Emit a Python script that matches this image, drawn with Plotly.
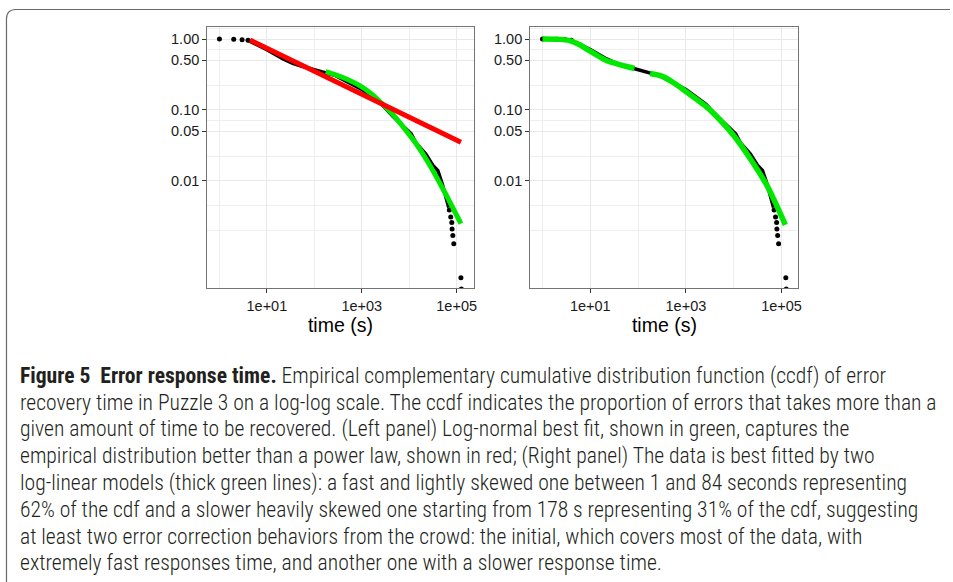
import plotly.graph_objects as go

# ---------------- data ----------------
# empirical ccdf: sparse head points, dense body, sparse tail points
emp_head_x = [1, 2, 3, 4]
emp_head_y = [1.0, 0.99, 0.98, 0.96]
emp_body_x = [4, 10, 22, 35, 57, 79, 120, 178, 280, 1000, 2630, 4470, 8000, 11000, 14000, 22400, 31600, 40000, 50000, 60000, 68000]
emp_body_y = [0.96, 0.71, 0.525, 0.455, 0.41, 0.385, 0.355, 0.33, 0.305, 0.195, 0.12, 0.082, 0.056, 0.046, 0.034, 0.024, 0.0165, 0.014, 0.0090, 0.0055, 0.0042]
emp_tail_x = [70000, 75000, 79000, 80000, 83000, 87000, 123000, 126000]
emp_tail_y = [0.0039, 0.0031, 0.0026, 0.0021, 0.0017, 0.0013, 0.00043, 0.00030]

# left panel fits
powerlaw_x = [4.4, 123000]
powerlaw_y = [0.97, 0.035]
lognorm_x = [174, 282, 500, 870, 1585, 2630, 4467, 8128, 14125, 25119, 54954, 123027]
lognorm_y = [0.347, 0.313, 0.269, 0.224, 0.17, 0.1245, 0.087, 0.0537, 0.0331, 0.0182, 0.0071, 0.0025]

# right panel fits (two log-linear models)
fit1_x = [1, 2.3, 3.7, 6.0, 9.7, 14.5, 21.7, 35, 57, 84]
fit1_y = [1.0, 0.99, 0.95, 0.83, 0.68, 0.58, 0.50, 0.45, 0.41, 0.385]
fit2_x = [178, 316, 562, 1000, 2512, 5012, 10000, 22387, 50119, 120226]
fit2_y = [0.327, 0.30, 0.24, 0.182, 0.115, 0.074, 0.0437, 0.0204, 0.0085, 0.0024]

y_tick_vals = [0.01, 0.05, 0.1, 0.5, 1.0]
y_tick_text = ["0.01", "0.05", "0.10", "0.50", "1.00"]
x_tick_vals = [10, 1000, 100000]
x_tick_text = ["1e+01", "1e+03", "1e+05"]
y_minor_vals = [0.002, 0.00447, 0.0224, 0.0708, 0.224, 0.708, 1.413]
x_minor_vals = [1, 100, 10000]

caption_lines = [
    "<b>Figure 5\u00a0 Error response time.</b> Empirical complementary cumulative distribution function (ccdf) of error",
    "recovery time in Puzzle 3 on a log-log scale. The ccdf indicates the proportion of errors that takes more than a",
    "given amount of time to be recovered. (Left panel) Log-normal best fit, shown in green, captures the",
    "empirical distribution better than a power law, shown in red; (Right panel) The data is best fitted by two",
    "log-linear models (thick green lines): a fast and lightly skewed one between 1 and 84 seconds representing",
    "62% of the cdf and a slower heavily skewed one starting from 178 s representing 31% of the cdf, suggesting",
    "at least two error correction behaviors from the crowd: the initial, which covers most of the data, with",
    "extremely fast responses time, and another one with a slower response time.",
]

# ---------------- figure ----------------
W, H = 953, 582
GREEN = "#00e800"
RED = "#ff0000"
CAP_FONT = "Roboto Condensed, Roboto, sans-serif"

fig = go.Figure()

for xa, ya in (("x", "y"), ("x2", "y2")):
    fig.add_trace(go.Scatter(x=emp_body_x, y=emp_body_y, mode="lines", xaxis=xa, yaxis=ya,
                             line=dict(color="black", width=3.5), hoverinfo="skip"))
    fig.add_trace(go.Scatter(x=emp_head_x + emp_tail_x, y=emp_head_y + emp_tail_y, mode="markers",
                             xaxis=xa, yaxis=ya, marker=dict(color="black", size=5)))

fig.add_trace(go.Scatter(x=lognorm_x, y=lognorm_y, mode="lines", xaxis="x", yaxis="y",
                         line=dict(color=GREEN, width=5, shape="spline", smoothing=0.8)))
fig.add_trace(go.Scatter(x=powerlaw_x, y=powerlaw_y, mode="lines", xaxis="x", yaxis="y",
                         line=dict(color=RED, width=5)))
fig.add_trace(go.Scatter(x=fit1_x, y=fit1_y, mode="lines", xaxis="x2", yaxis="y2",
                         line=dict(color=GREEN, width=5.5, shape="spline", smoothing=0.8)))
fig.add_trace(go.Scatter(x=fit2_x, y=fit2_y, mode="lines", xaxis="x2", yaxis="y2",
                         line=dict(color=GREEN, width=5.5, shape="spline", smoothing=0.8)))

tickfont = dict(family="Liberation Sans, Arial, sans-serif", size=14.5, color="#1a1a1a")
grid = dict(showgrid=True, gridcolor="#e8e8e8", gridwidth=1.4, zeroline=False)
minor = dict(tickmode="array", showgrid=True, gridcolor="#eeeeee", gridwidth=1.4, ticklen=0)
frame = dict(showline=True, mirror=True, linecolor="#747474", linewidth=1.3,
             ticks="outside", ticklen=4, tickwidth=1.1, tickcolor="#333333")
common_x = dict(type="log", range=[-0.255, 5.355], tickmode="array", tickvals=x_tick_vals,
                ticktext=x_tick_text, tickfont=tickfont,
                minor=dict(minor, tickvals=x_minor_vals),
                title=dict(text="time (s)", font=dict(family="Liberation Sans, Arial, sans-serif",
                                                      size=19.5, color="black"), standoff=0),
                **grid, **frame)
common_y = dict(type="log", range=[-3.51, 0.17], tickmode="array", tickvals=y_tick_vals,
                ticktext=y_tick_text, tickfont=tickfont,
                minor=dict(minor, tickvals=y_minor_vals),
                **grid, **frame)

y_dom = [1 - 288 / H, 1 - 27 / H]
fig.update_layout(
    width=W, height=H, autosize=False,
    margin=dict(l=0, r=0, t=0, b=0),
    paper_bgcolor="white", plot_bgcolor="white", showlegend=False,
    xaxis=dict(common_x, domain=[208 / W, 475 / W], anchor="y"),
    yaxis=dict(common_y, domain=y_dom, anchor="x"),
    xaxis2=dict(common_x, domain=[532 / W, 801 / W], anchor="y2"),
    yaxis2=dict(common_y, domain=y_dom, anchor="x2"),
)

# rounded frame around the figure (top and left edges visible)
def px(x, y):
    return f"{x / W:.5f},{1 - y / H:.5f}"

frame_path = (f"M {px(6.5, 582)} L {px(6.5, 19)} Q {px(6.5, 9.5)} {px(16, 9.5)} L {px(953, 9.5)}")
fig.add_shape(type="path", path=frame_path, xref="paper", yref="paper",
              line=dict(color="#6a6a6a", width=1.2))

for i, line in enumerate(caption_lines):
    yc = 376 + 26.7 * i
    fig.add_annotation(text=line, xref="paper", yref="paper", x=18 / W, y=1 - yc / H,
                       xanchor="left", yanchor="middle", showarrow=False, align="left",
                       font=dict(family=CAP_FONT, size=21.6, weight=300, color="#231f20"))

fig.write_html("out.html", config={"displayModeBar": False},
               post_script="document.body.style.margin='0px';")
